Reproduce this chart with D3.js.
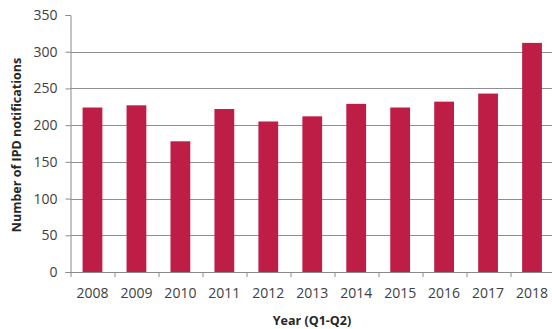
<!DOCTYPE html>
<html>
<head>
<meta charset="utf-8">
<script src="https://cdn.jsdelivr.net/npm/d3@7"></script>
<style>
  html, body { margin: 0; padding: 0; background: #fff; }
  svg { display: block; }
  .tick text { font-family: "Open Sans", sans-serif; font-size: 14px; fill: #404040; }
  .title { font-family: "Open Sans", sans-serif; font-weight: bold; font-size: 12.5px; fill: #262626; }
</style>
</head>
<body>
<svg id="chart" width="552" height="329"></svg>
<script>
// IPD notifications, first half of each year
const years = ["2008", "2009", "2010", "2011", "2012", "2013", "2014", "2015", "2016", "2017", "2018"];
const notifications = [224, 227, 178, 222, 205, 212, 229, 224, 232, 243, 312];
const yTicks = [0, 50, 100, 150, 200, 250, 300, 350];

const svg = d3.select("#chart");
const margin = { top: 15, right: -2, bottom: 57, left: 70.5 };
const width = 552 - margin.left - margin.right;
const height = 329 - margin.top - margin.bottom;

const g = svg.append("g").attr("transform", `translate(${margin.left},${margin.top})`);

const x = d3.scaleBand().domain(years).range([0, width]).paddingInner(0.55).paddingOuter(0.275);
const y = d3.scaleLinear().domain([0, 350]).range([height, 0]);

// horizontal gridlines (none at the top value)
g.append("g")
  .selectAll("line")
  .data(yTicks.filter(v => v > 0 && v < 350))
  .join("line")
  .attr("x1", 0).attr("x2", width)
  .attr("y1", d => Math.round(y(d)) + 0.5).attr("y2", d => Math.round(y(d)) + 0.5)
  .attr("stroke", "#8f8f8f").attr("stroke-width", 1);

// bars
g.append("g")
  .selectAll("rect")
  .data(years.map((yr, i) => ({ yr, v: notifications[i] })))
  .join("rect")
  .attr("x", d => x(d.yr))
  .attr("width", x.bandwidth())
  .attr("y", d => y(d.v))
  .attr("height", d => y(0) - y(d.v))
  .attr("fill", "#be1e46");

// y axis
const yAxis = g.append("g")
  .call(d3.axisLeft(y).tickValues(yTicks).tickSize(5).tickPadding(8));
yAxis.select(".domain").attr("stroke", "#8a8a8a");
yAxis.selectAll(".tick line").attr("stroke", "#8a8a8a");

// x axis with ticks at category boundaries
const xAxis = g.append("g").attr("transform", `translate(0,${height})`)
  .call(d3.axisBottom(x).tickSize(0).tickPadding(16));
xAxis.select(".domain").attr("stroke", "#8a8a8a");
const step = x.step();
const boundaries = d3.range(years.length + 1).map(i => i * step);
xAxis.selectAll(".boundary")
  .data(boundaries)
  .join("line")
  .attr("class", "boundary")
  .attr("x1", d => Math.round(d) + 0.5).attr("x2", d => Math.round(d) + 0.5)
  .attr("y1", 0).attr("y2", 5)
  .attr("stroke", "#8a8a8a");

// axis titles
svg.append("text").attr("class", "title")
  .attr("x", 312).attr("y", 325)
  .attr("text-anchor", "middle")
  .text("Year (Q1-Q2)");

svg.append("text").attr("class", "title")
  .attr("transform", "translate(21,145) rotate(-90)")
  .attr("text-anchor", "middle")
  .text("Number of IPD notifications");
</script>
</body>
</html>
